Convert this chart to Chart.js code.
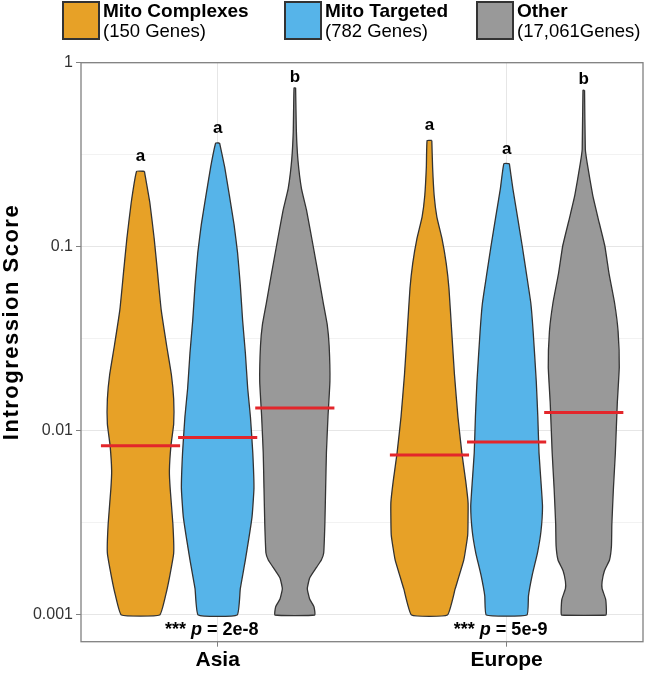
<!DOCTYPE html>
<html><head><meta charset="utf-8">
<script src="https://cdn.jsdelivr.net/npm/chart.js@4.4.1/dist/chart.umd.min.js"></script>
<style>html,body{margin:0;padding:0;background:#fff}#wrap{width:646px;height:674px;position:relative}</style>
</head><body><div id="wrap"><canvas id="c"></canvas></div>
<script>
// ---------- data ----------
const regions = ['Asia', 'Europe'];
const groups = ['Mito Complexes', 'Mito Targeted', 'Other'];
const groupCounts = ['(150 Genes)', '(782 Genes)', '(17,061Genes)'];
const yTitle = 'Introgression Score';
const yTickValues = [0.001, 0.01, 0.1, 1];
const yTickLabels = ['0.001', '0.01', '0.1', '1'];
const yMinorValues = [0.00316, 0.0316, 0.316];
const sigLetters = ['a', 'a', 'b'];
const pValues = ['2e-8', '5e-9'];

// violin outlines: score levels (top to bottom) and relative density width
const asiaComplexScores = [0.257, 0.173, 0.111, 0.071, 0.0454, 0.029, 0.0203, 0.0149, 0.0109, 0.00832, 0.00608, 0.00486, 0.00311, 0.00217, 0.00159, 0.00127, 0.001];
const asiaComplexDensity = [0.10, 0.24, 0.35, 0.44, 0.53, 0.67, 0.79, 0.85, 0.85, 0.78, 0.74, 0.76, 0.83, 0.85, 0.74, 0.64, 0.49];
const asiaTargetedScores = [0.366, 0.271, 0.190, 0.132, 0.0927, 0.0619, 0.0397, 0.0265, 0.0170, 0.0119, 0.0076, 0.00486, 0.0034, 0.00199, 0.00139, 0.001];
const asiaTargetedDensity = [0.05, 0.18, 0.30, 0.42, 0.51, 0.58, 0.64, 0.71, 0.77, 0.84, 0.90, 0.93, 0.88, 0.71, 0.58, 0.50];
const asiaOtherScores = [0.730, 0.424, 0.296, 0.207, 0.158, 0.101, 0.071, 0.0495, 0.0379, 0.029, 0.0186, 0.0119, 0.0076, 0.00486, 0.00311, 0.00217, 0.00199, 0.00182, 0.00159, 0.00139, 0.00122, 0.00111, 0.001];
const asiaOtherDensity = [0.02, 0.04, 0.08, 0.17, 0.30, 0.47, 0.60, 0.73, 0.83, 0.88, 0.90, 0.85, 0.81, 0.79, 0.77, 0.74, 0.68, 0.56, 0.38, 0.32, 0.38, 0.49, 0.51];
const europeComplexScores = [0.378, 0.271, 0.190, 0.145, 0.111, 0.0811, 0.0593, 0.0347, 0.0203, 0.0119, 0.0076, 0.00532, 0.00406, 0.00272, 0.00199, 0.00139, 0.001];
const europeComplexDensity = [0.06, 0.08, 0.12, 0.19, 0.32, 0.43, 0.50, 0.57, 0.64, 0.73, 0.83, 0.93, 0.99, 0.98, 0.88, 0.66, 0.46];
const europeTargetedScores = [0.283, 0.207, 0.145, 0.101, 0.071, 0.0495, 0.0347, 0.0186, 0.0119, 0.0076, 0.00532, 0.00389, 0.00284, 0.00217, 0.00166, 0.00127, 0.001];
const europeTargetedDensity = [0.07, 0.16, 0.28, 0.40, 0.51, 0.62, 0.68, 0.76, 0.80, 0.83, 0.88, 0.92, 0.88, 0.79, 0.66, 0.56, 0.52];
const europeOtherScores = [0.708, 0.339, 0.283, 0.190, 0.145, 0.101, 0.071, 0.0495, 0.0347, 0.0222, 0.0142, 0.0076, 0.00486, 0.00311, 0.00238, 0.00199, 0.00174, 0.00152, 0.00139, 0.00122, 0.00106, 0.001];
const europeOtherDensity = [0.02, 0.04, 0.09, 0.23, 0.36, 0.54, 0.65, 0.79, 0.88, 0.91, 0.86, 0.81, 0.76, 0.72, 0.71, 0.66, 0.53, 0.47, 0.47, 0.56, 0.58, 0.57];

const asiaMedians = [0.0083, 0.0092, 0.0133];
const europeMedians = [0.0074, 0.0087, 0.0126];

// ---------- styling / layout ----------
const FONT = '"Liberation Sans", Arial, Helvetica, sans-serif';
const COLORS = ['#E7A127', '#56B4E9', '#999999'];
const DODGE = 0.267, MAXW = 0.135, MED_HALF = 0.137;

const violinSets = [
  [[asiaComplexScores, asiaComplexDensity], [asiaTargetedScores, asiaTargetedDensity], [asiaOtherScores, asiaOtherDensity]],
  [[europeComplexScores, europeComplexDensity], [europeTargetedScores, europeTargetedDensity], [europeOtherScores, europeOtherDensity]]
];
const medianSets = [asiaMedians, europeMedians];

const datasets = [];
regions.forEach((r, i) => {
  groups.forEach((g, j) => {
    const cx = i + 1 + (j - 1) * DODGE;
    const [sc, de] = violinSets[i][j];
    const pts = [];
    for (let k = 0; k < sc.length; k++) pts.push({x: cx + de[k] * MAXW, y: sc[k]});
    for (let k = sc.length - 1; k >= 0; k--) pts.push({x: cx - de[k] * MAXW, y: sc[k]});
    pts.push({x: pts[0].x, y: pts[0].y});
    datasets.push({
      type: 'scatter', label: r + ' ' + g, data: pts, showLine: true, fill: 'shape',
      backgroundColor: COLORS[j], borderColor: '#333333', borderWidth: 1.3,
      borderJoinStyle: 'round', pointRadius: 0, tension: 0.12, order: 2
    });
    const m = medianSets[i][j];
    datasets.push({
      type: 'scatter', label: r + ' ' + g + ' median',
      data: [{x: cx - MED_HALF, y: m}, {x: cx + MED_HALF, y: m}],
      showLine: true, fill: false, borderColor: '#E3262B', borderWidth: 3,
      pointRadius: 0, order: 1
    });
  });
});

const annotations = {
  id: 'annotations',
  afterDatasetsDraw(chart) {
    const {ctx, chartArea: a, scales: {x, y}} = chart;
    ctx.save();
    // panel border
    ctx.strokeStyle = '#808080';
    ctx.lineWidth = 1.3;
    ctx.strokeRect(a.left, a.top, a.right - a.left, a.bottom - a.top);
    // significance letters
    ctx.fillStyle = '#000';
    ctx.font = 'bold 17px ' + FONT;
    ctx.textAlign = 'center';
    ctx.textBaseline = 'alphabetic';
    regions.forEach((r, i) => groups.forEach((g, j) => {
      const cx = i + 1 + (j - 1) * DODGE;
      const top = violinSets[i][j][0][0];
      ctx.fillText(sigLetters[j], x.getPixelForValue(cx), y.getPixelForValue(top) - (sigLetters[j] === 'b' ? 6 : 10));
    }));
    // p values
    ctx.textAlign = 'left';
    regions.forEach((r, i) => {
      const parts = [['bold 18px ' + FONT, '*** '], ['italic bold 18px ' + FONT, 'p'], ['bold 18px ' + FONT, ' = ' + pValues[i]]];
      let w = 0;
      parts.forEach(p => { ctx.font = p[0]; w += ctx.measureText(p[1]).width; });
      let px = x.getPixelForValue(i + 1) - 6 - w / 2;
      const py = a.bottom - 7;
      parts.forEach(p => { ctx.font = p[0]; ctx.fillText(p[1], px, py); px += ctx.measureText(p[1]).width; });
    });
    ctx.restore();
  },
  afterDraw(chart) {
    const ctx = chart.ctx;
    ctx.save();
    // y axis title
    ctx.translate(12, 322);
    ctx.rotate(-Math.PI / 2);
    ctx.fillStyle = '#000';
    ctx.font = 'bold 22px ' + FONT;
    ctx.textAlign = 'center';
    ctx.textBaseline = 'middle';
    try { ctx.letterSpacing = '1.5px'; } catch (e) {}
    ctx.fillText(yTitle, 0, 0);
    ctx.restore();
    // legend
    ctx.save();
    const sx = [63, 285, 477];
    groups.forEach((g, j) => {
      ctx.fillStyle = COLORS[j];
      ctx.fillRect(sx[j], 2, 36, 37);
      ctx.strokeStyle = '#333';
      ctx.lineWidth = 2;
      ctx.strokeRect(sx[j], 2, 36, 37);
      ctx.fillStyle = '#000';
      ctx.textAlign = 'left';
      ctx.textBaseline = 'alphabetic';
      ctx.font = 'bold 19px ' + FONT;
      ctx.fillText(g, sx[j] + 40, 17);
      ctx.font = '18.5px ' + FONT;
      ctx.fillText(groupCounts[j], sx[j] + 40, 37);
    });
    ctx.restore();
  }
};

new Chart(document.getElementById('c'), {
  type: 'scatter',
  data: {datasets},
  options: {
    responsive: true, maintainAspectRatio: false, animation: false, devicePixelRatio: 1,
    layout: {padding: {top: 62.7, right: 3, left: 0, bottom: 0}},
    plugins: {legend: {display: false}, tooltip: {enabled: false}},
    scales: {
      x: {
        type: 'linear', min: 0.527, max: 2.472,
        afterBuildTicks(s) { s.ticks = regions.map((r, i) => ({value: i + 1})); },
        afterFit(s) { s.height = 32.3; },
        ticks: {autoSkip: false, maxRotation: 0, padding: 1, color: '#000',
          font: {size: 21, weight: 'bold', family: FONT},
          callback(v) { return regions[Math.round(v) - 1]; }},
        grid: {color: '#E6E6E6', tickColor: '#808080', tickLength: 5},
        border: {display: false}
      },
      y: {
        type: 'logarithmic', min: 0.000716, max: 1,
        afterBuildTicks(s) {
          s.ticks = yTickValues.concat(yMinorValues).sort((p, q) => p - q).map(v => ({value: v}));
        },
        afterFit(s) { s.width = 81; },
        ticks: {autoSkip: false, padding: 3, color: '#333',
          font: {size: 16, family: FONT},
          callback(v) { const k = yTickValues.indexOf(v); return k >= 0 ? yTickLabels[k] : ''; }},
        grid: {
          color(c) { return c.tick && yTickValues.includes(c.tick.value) ? '#E6E6E6' : '#F2F2F2'; },
          tickColor(c) { return c.tick && yTickValues.includes(c.tick.value) ? '#808080' : 'rgba(0,0,0,0)'; },
          tickLength: 5
        },
        border: {display: false},
        title: {display: false}
      }
    }
  },
  plugins: [annotations]
});
</script>
</body></html>
